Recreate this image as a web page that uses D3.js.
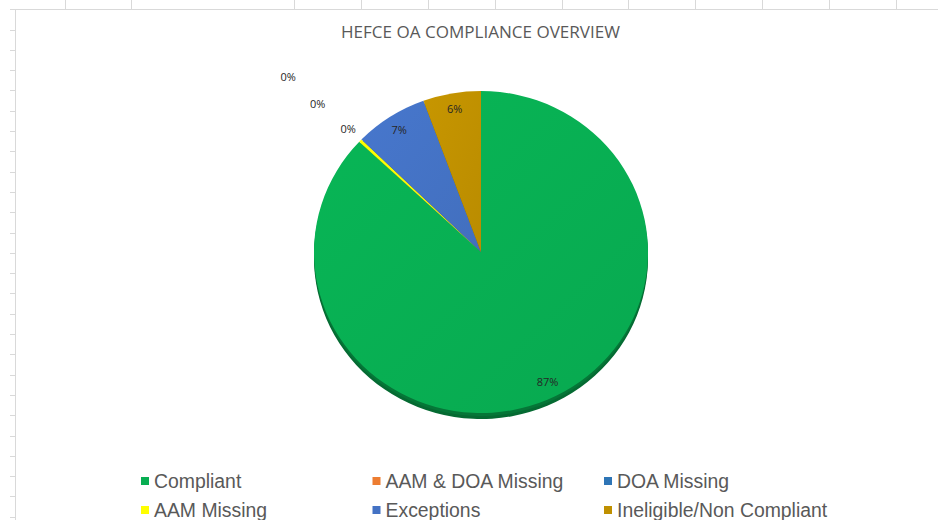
<!DOCTYPE html>
<html>
<head>
<meta charset="utf-8">
<script src="https://cdn.jsdelivr.net/npm/d3@7"></script>
<style>
  html, body { margin: 0; padding: 0; background: #fff; }
  svg { display: block; }
</style>
</head>
<body>
<svg id="chart" width="938" height="520"></svg>
<script>
// ---- data ----
const categories = ["Compliant", "AAM & DOA Missing", "DOA Missing", "AAM Missing", "Exceptions", "Ineligible/Non Compliant"];
const values = [87.0, 0, 0, 0.3, 7.1, 5.6];
const colors = ["#08AE52", "#ED7D31", "#2E75B6", "#FFFF00", "#4472C4", "#BF9000"];
const title = "HEFCE OA COMPLIANCE OVERVIEW";

// ---- layout ----
const W = 938, H = 520;
const svg = d3.select("#chart");
const cx = 481, cy = 252, rx = 167, ry = 161, depth = 6;
const sheetCols = [65, 131, 294, 361, 428, 495, 562, 628, 695, 762, 829, 896];

// spreadsheet background frame
const grid = svg.append("g").attr("stroke", "#d9d9d9").attr("stroke-width", 1).attr("shape-rendering", "crispEdges");
grid.selectAll("line.col").data(sheetCols).join("line")
  .attr("x1", d => d + 0.5).attr("x2", d => d + 0.5).attr("y1", 0).attr("y2", 10);
grid.selectAll("line.row").data(d3.range(29.5, H, 20.3)).join("line")
  .attr("x1", 10).attr("x2", 15).attr("y1", d => Math.round(d) + 0.5).attr("y2", d => Math.round(d) + 0.5);
grid.append("line").attr("x1", 10).attr("x2", W).attr("y1", 9.5).attr("y2", 9.5);
grid.append("line").attr("x1", 15.5).attr("x2", 15.5).attr("y1", 10).attr("y2", H);

// title
svg.append("text")
  .attr("x", 480.5).attr("y", 38)
  .attr("text-anchor", "middle")
  .attr("font-family", "Open Sans, sans-serif")
  .attr("font-size", 15.5)
  .attr("fill", "#595959")
  .attr("textLength", 279).attr("lengthAdjust", "spacingAndGlyphs")
  .text(title);

// pie
const total = d3.sum(values);
const pie = d3.pie().sort(null).value(d => d).startAngle(0).endAngle(2 * Math.PI);
const arcs = pie(values).map((a, i) => Object.assign(a, { i }));
const arc = d3.arc().innerRadius(0).outerRadius(rx);
const sy = ry / rx;

const defs = svg.append("defs");
arcs.forEach(a => {
  const g = defs.append("linearGradient").attr("id", "g" + a.i)
    .attr("x1", "0").attr("y1", "0").attr("x2", "1").attr("y2", "1");
  g.append("stop").attr("offset", "0%").attr("stop-color", d3.color(colors[a.i]).brighter(0.12));
  g.append("stop").attr("offset", "100%").attr("stop-color", d3.color(colors[a.i]).darker(0.08));
});

// side (depth)
svg.append("g").attr("transform", `translate(${cx},${cy + depth}) scale(1,${sy})`)
  .selectAll("path").data(arcs.filter(a => a.value > 0)).join("path")
  .attr("d", arc)
  .attr("fill", d => d3.color(colors[d.i]).darker(1.4));
svg.append("g").attr("transform", `translate(${cx},${cy + depth / 2}) scale(1,${sy})`)
  .selectAll("path").data(arcs.filter(a => a.value > 0)).join("path")
  .attr("d", arc)
  .attr("fill", d => d3.color(colors[d.i]).darker(1.1));

// faces
svg.append("g").attr("transform", `translate(${cx},${cy}) scale(1,${sy})`)
  .selectAll("path").data(arcs.filter(a => a.value > 0)).join("path")
  .attr("d", arc)
  .attr("fill", d => `url(#g${d.i})`);

// data labels
const pct = d3.format(".0%");
let outsideCount = 0;
const labelData = arcs.slice().reverse().map(a => {
  const mid = (a.startAngle + a.endAngle) / 2 - (a.value / total > 0.5 ? 0.05 : 0);
  const p = Math.round(a.value / total * 100);
  let f = 0.9;
  if (p === 0) { f = 1.10 + outsideCount * 0.242; outsideCount++; }
  return { text: pct(a.value / total), x: cx + Math.sin(mid) * rx * f, y: cy - Math.cos(mid) * ry * f };
});
svg.append("g").selectAll("text").data(labelData).join("text")
  .attr("x", d => d.x).attr("y", d => d.y).attr("dy", "0.35em")
  .attr("text-anchor", "middle")
  .attr("font-family", "Open Sans, sans-serif")
  .attr("font-size", 11)
  .attr("fill", "#262626")
  .text(d => d.text);

// legend
const legX0 = 141, colW = 231.5, rowY0 = 481, rowH = 29;
const leg = svg.append("g").selectAll("g").data(categories).join("g")
  .attr("transform", (d, i) => `translate(${legX0 + (i % 3) * colW},${rowY0 + Math.floor(i / 3) * rowH})`);
leg.append("rect").attr("x", 0).attr("y", -4).attr("width", 8).attr("height", 8)
  .attr("fill", (d, i) => colors[i]);
leg.append("text").attr("x", 13).attr("y", 0).attr("dy", "0.35em")
  .attr("font-family", "Liberation Sans, Arial, sans-serif")
  .attr("font-size", 19.4)
  .attr("fill", "#595959")
  .text(d => d);
</script>
</body>
</html>
